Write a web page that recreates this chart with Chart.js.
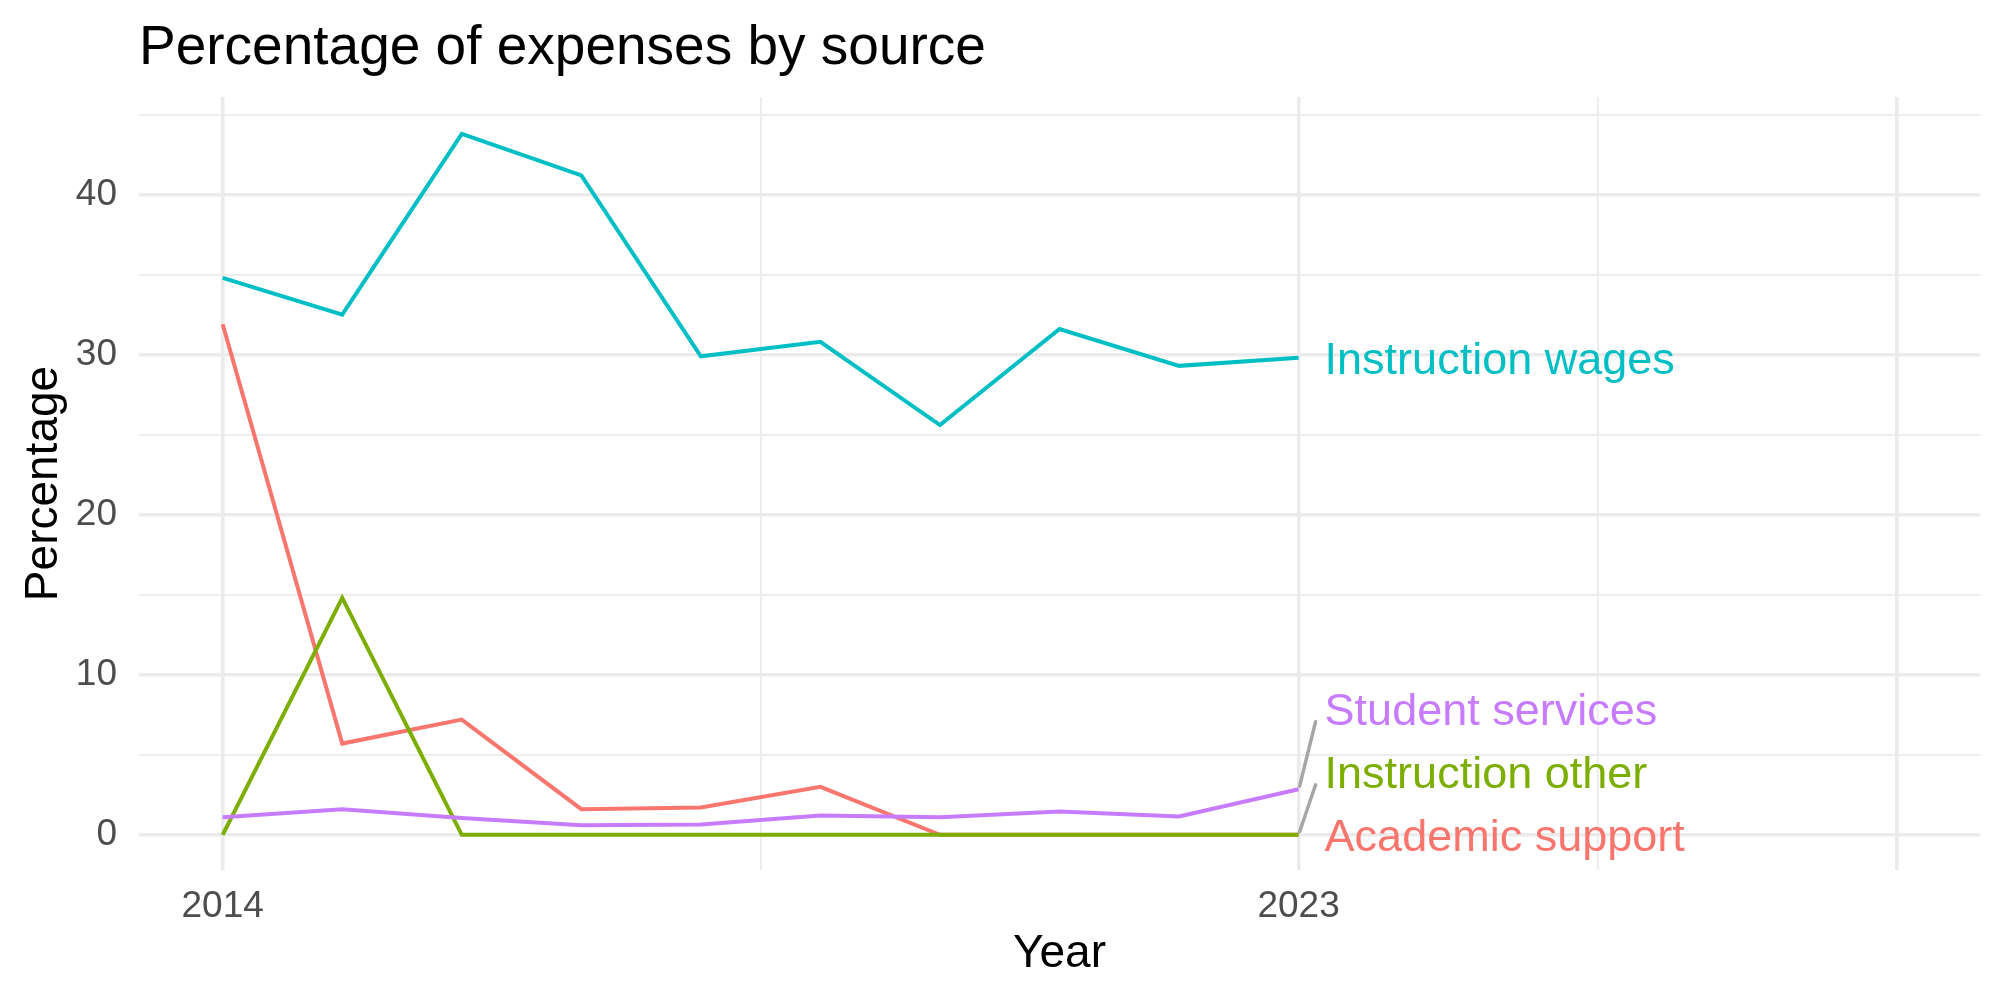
<!DOCTYPE html>
<html><head><meta charset="utf-8">
<script src="https://cdn.jsdelivr.net/npm/chart.js@4"></script>
<style>html,body{margin:0;padding:0;background:#fff}#wrap{width:2000px;height:1000px}</style>
</head><body><div id="wrap"><canvas id="c" width="2000" height="1000"></canvas></div>
<script>
// ---- data ----
const years = [2014, 2015, 2016, 2017, 2018, 2019, 2020, 2021, 2022, 2023];
const academicSupport  = [31.9, 5.7, 7.2, 1.6, 1.7, 3.0, 0, 0, 0, 0];
const instructionOther = [0, 14.8, 0, 0, 0, 0, 0, 0, 0, 0];
const instructionWages = [34.8, 32.5, 43.8, 41.2, 29.9, 30.8, 25.6, 31.6, 29.3, 29.8];
const studentServices  = [1.1, 1.6, 1.05, 0.6, 0.65, 1.2, 1.1, 1.45, 1.15, 2.85];
const seriesNames = ["Academic support", "Instruction other", "Instruction wages", "Student services"];
const xTickValues = [2014, 2018.5, 2023, 2025.5, 2028];
const xMajorTicks = [2014, 2023, 2028];
const xLabeledTicks = [2014, 2023];
const yTickValues = [0, 5, 10, 15, 20, 25, 30, 35, 40, 45];
const yLabeledTicks = [0, 10, 20, 30, 40];

const FONT = '"Liberation Sans", Arial, Helvetica, sans-serif';
const COLORS = ["#F8766D", "#7CAE00", "#00BFC4", "#C77CFF"];
const GRID = "#EBEBEB";

const endLabels = {
  id: 'endLabels',
  afterDatasetsDraw(chart, args, opts) {
    const {ctx} = chart;
    const x = chart.scales.x, y = chart.scales.y;
    const items = chart.data.datasets.map(ds => ({
      name: ds.label, color: ds.borderColor, value: ds.data[ds.data.length - 1].y
    }));
    items.sort((a, b) => (a.value - b.value) || a.name.localeCompare(b.name));
    let prev = null;
    items.forEach(it => {
      it.py = y.getPixelForValue(it.value);
      let ly = it.py + opts.offsetPx;
      if (prev !== null && ly > prev - opts.gapPx) ly = prev - opts.gapPx;
      it.ly = ly; prev = ly;
    });
    const xe = x.getPixelForValue(years[years.length - 1]);
    ctx.save();
    ctx.font = opts.size + 'px ' + FONT;
    ctx.textBaseline = 'middle';
    ctx.textAlign = 'left';
    items.forEach(it => {
      if (Math.abs(it.ly - it.py) > opts.segMin) {
        ctx.strokeStyle = opts.segColor;
        ctx.lineWidth = opts.segWidth;
        ctx.lineCap = 'round';
        ctx.beginPath();
        ctx.moveTo(xe + 1, it.py - 3);
        ctx.lineTo(xe + opts.segDx, it.ly + 9);
        ctx.stroke();
      }
      ctx.fillStyle = it.color;
      ctx.fillText(it.name, xe + opts.textDx, it.ly);
    });
    ctx.restore();
  }
};

const allSeries = [academicSupport, instructionOther, instructionWages, studentServices];
const datasets = allSeries.map((vals, i) => ({
  label: seriesNames[i],
  data: years.map((yr, j) => ({x: yr, y: vals[j]})),
  borderColor: COLORS[i],
  backgroundColor: COLORS[i],
  borderWidth: 4,
  pointRadius: 0,
  tension: 0,
  fill: false,
  order: allSeries.length - i
}));

new Chart(document.getElementById('c'), {
  type: 'line',
  data: {datasets},
  plugins: [endLabels],
  options: {
    responsive: false,
    animation: false,
    events: [],
    layout: {padding: {left: 17, right: 20, top: 0, bottom: 18}},
    plugins: {
      legend: {display: false},
      tooltip: {enabled: false},
      title: {
        display: true,
        text: 'Percentage of expenses by source',
        align: 'start',
        fullSize: false,
        color: '#000000',
        font: {family: FONT, size: 55, weight: 'normal'},
        padding: {top: 16, bottom: 15}
      },
      endLabels: {size: 45, gapPx: 63, offsetPx: 4, textDx: 26, segDx: 17, segMin: 20,
                  segColor: '#A6A6A6', segWidth: 3.5}
    },
    scales: {
      x: {
        type: 'linear',
        min: 2013.3, max: 2028.7,
        afterBuildTicks: s => { s.ticks = xTickValues.map(v => ({value: v})); },
        afterFit: s => { s.height = 112; },
        border: {display: false},
        grid: {
          color: GRID,
          drawTicks: false,
          lineWidth: c => xMajorTicks.includes(c.tick && c.tick.value) ? 3.5 : 1.75
        },
        ticks: {
          autoSkip: false, maxRotation: 0, minRotation: 0, padding: 15,
          color: '#4D4D4D', font: {family: FONT, size: 37},
          callback: v => xLabeledTicks.includes(v) ? String(v) : ''
        },
        title: {display: true, text: 'Year', color: '#000000',
                font: {family: FONT, size: 46, weight: 'normal'}, padding: 0}
      },
      y: {
        type: 'linear',
        min: -2.2, max: 46.1,
        afterBuildTicks: s => { s.ticks = yTickValues.map(v => ({value: v})); },
        afterFit: s => { s.width = 122; },
        border: {display: false},
        grid: {
          color: GRID,
          drawTicks: false,
          lineWidth: c => (c.tick && yLabeledTicks.includes(c.tick.value)) ? 3.5 : 1.75
        },
        ticks: {
          autoSkip: false, padding: 22,
          color: '#4D4D4D', font: {family: FONT, size: 37},
          callback: v => yLabeledTicks.includes(v) ? String(v) : ''
        },
        title: {display: true, text: 'Percentage', color: '#000000',
                font: {family: FONT, size: 46, weight: 'normal'}, padding: 0}
      }
    }
  }
});
</script>
</body></html>
